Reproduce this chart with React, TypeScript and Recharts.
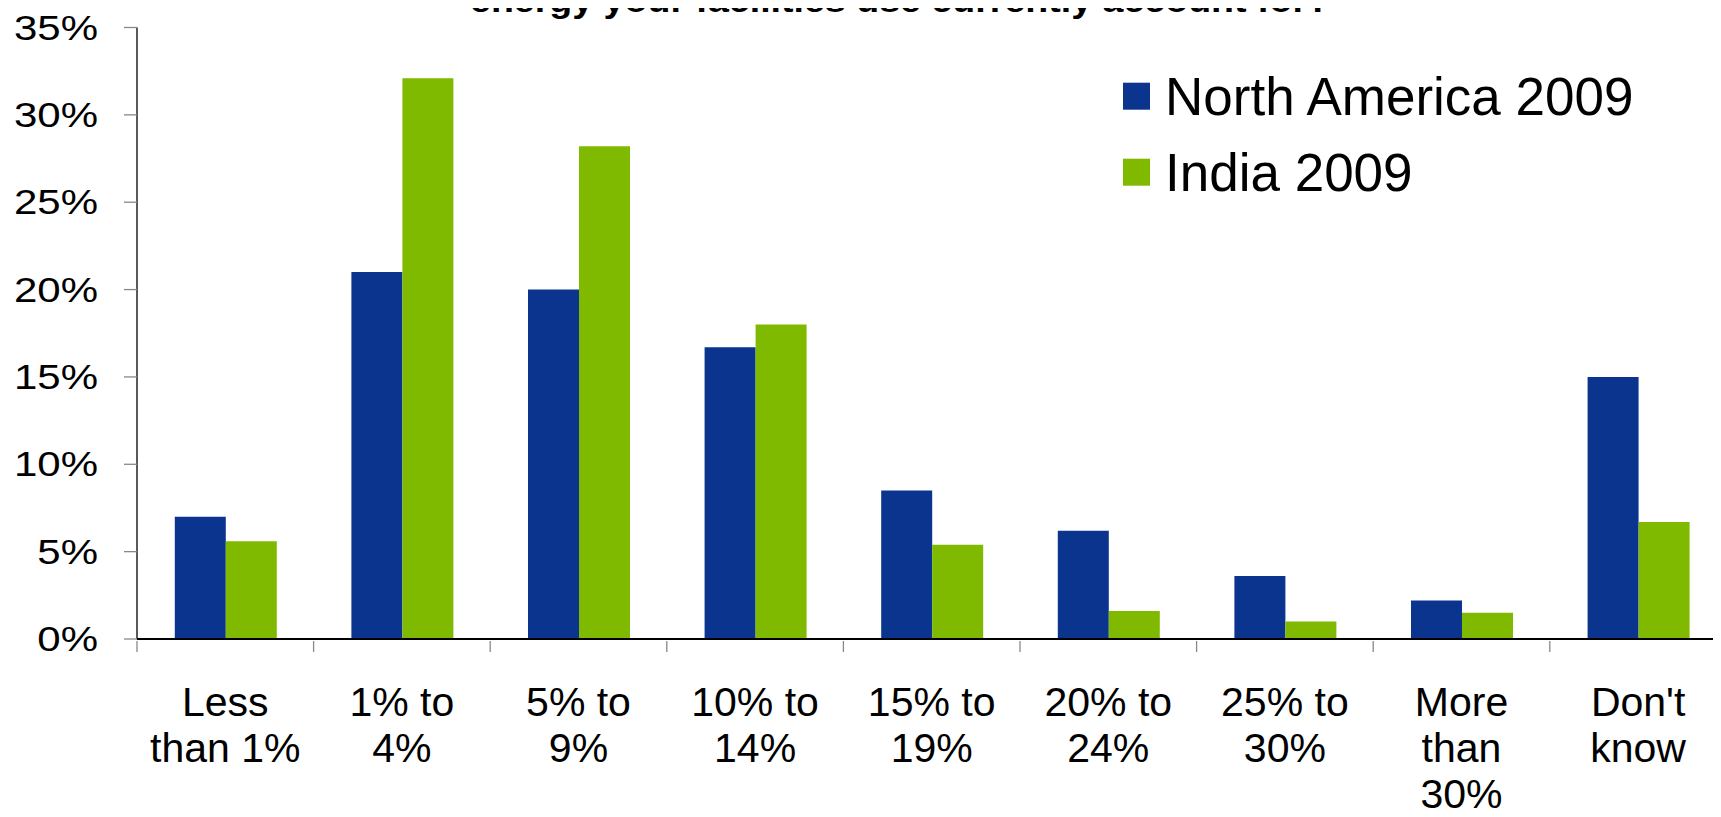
import { BarChart, Bar, XAxis, YAxis, Legend } from "recharts"

const categories = [
  "Less\nthan 1%",
  "1% to\n4%",
  "5% to\n9%",
  "10% to\n14%",
  "15% to\n19%",
  "20% to\n24%",
  "25% to\n30%",
  "More\nthan\n30%",
  "Don't\nknow",
]
const seriesNames = ["North America 2009", "India 2009"]
const northAmerica = [7.0, 21.0, 20.0, 16.7, 8.5, 6.2, 3.6, 2.2, 15.0]
const india = [5.6, 32.1, 28.2, 18.0, 5.4, 1.6, 1.0, 1.5, 6.7]
const yTicks = [0, 5, 10, 15, 20, 25, 30, 35]
const title = "energy your facilities use currently account for?"

const data = categories.map((name, i) => ({
  name,
  na: northAmerica[i],
  india: india[i],
}))

const FONT = "'Liberation Sans', Arial, Helvetica, sans-serif"
const CHART_W = 1740
const CHART_H = 817
const MARGIN = { top: 27.5, right: 13.6, bottom: 0, left: 0 }
const Y_W = 137
const HALF_BAND = (CHART_W - MARGIN.left - MARGIN.right - Y_W) / categories.length / 2

function YTick({ x, y, payload }: any) {
  return (
    <text
      transform={`translate(${x},${y + 12}) scale(1.2,1)`}
      textAnchor="end"
      fontSize={35}
      fontFamily={FONT}
      fill="#000"
    >
      {`${payload.value}%`}
    </text>
  )
}

function XTick({ x, y, payload }: any) {
  const lines = String(payload.value).split("\n")
  return (
    <g>
      <line x1={x - HALF_BAND} x2={x - HALF_BAND} y1={y - 11} y2={y} stroke="#888" strokeWidth={1.3} />
      <text x={x} y={y + 64} textAnchor="middle" fontSize={41} fontFamily={FONT} fill="#000">
        {lines.map((l, i) => (
          <tspan key={i} x={x} dy={i === 0 ? 0 : 46}>
            {l}
          </tspan>
        ))}
      </text>
    </g>
  )
}

function LegendBox({ payload }: any) {
  const items = [...(payload || [])].sort(
    (a: any, b: any) => seriesNames.indexOf(a.value) - seriesNames.indexOf(b.value)
  )
  return (
    <svg width={580} height={170} style={{ overflow: "visible" }}>
      {items.map((p: any, i: number) => (
        <g key={p.value} transform={`translate(0, ${12.7 + i * 76})`}>
          <rect x={0} y={0} width={27} height={27} fill={p.color} />
          <text x={42} y={32.3} fontSize={53} fontFamily={FONT} fill="#000">
            {p.value}
          </text>
        </g>
      ))}
    </svg>
  )
}

export default function App() {
  return (
    <div style={{ position: "relative", margin: -8, width: 1721, height: 817, overflow: "hidden", background: "#fff" }}>
      <BarChart
        width={CHART_W}
        height={CHART_H}
        data={data}
        margin={MARGIN}
        barCategoryGap="21.4%"
        barGap={0}
      >
        <XAxis
          dataKey="name"
          interval={0}
          height={178}
          tickSize={11}
          tickLine={false}
          axisLine={{ stroke: "#000", strokeWidth: 2 }}
          tick={<XTick />}
        />
        <YAxis
          width={Y_W}
          domain={[0, 35]}
          ticks={yTicks}
          interval={0}
          tickSize={13}
          tickMargin={26}
          tickLine={{ stroke: "#888", strokeWidth: 1.3 }}
          axisLine={{ stroke: "#000", strokeWidth: 1.3 }}
          tick={<YTick />}
        />
        <Legend
          layout="horizontal"
          verticalAlign="middle"
          align="center"
          content={<LegendBox />}
          wrapperStyle={{ position: "absolute", left: 1123, top: 70, width: 580, height: 170 }}
        />
        <Bar dataKey="na" name={seriesNames[0]} fill="#0B348F" isAnimationActive={false} />
        <Bar dataKey="india" name={seriesNames[1]} fill="#7FBA00" isAnimationActive={false} />
      </BarChart>
      <svg width={1721} height={30} style={{ position: "absolute", left: 0, top: 0, zIndex: 2 }}>
        <text
          x={470}
          y={12}
          fontSize={34}
          fontWeight="bold"
          fontFamily={FONT}
          textLength={860}
          lengthAdjust="spacingAndGlyphs"
          fill="#000"
        >
          {title}
        </text>
      </svg>
    </div>
  )
}
